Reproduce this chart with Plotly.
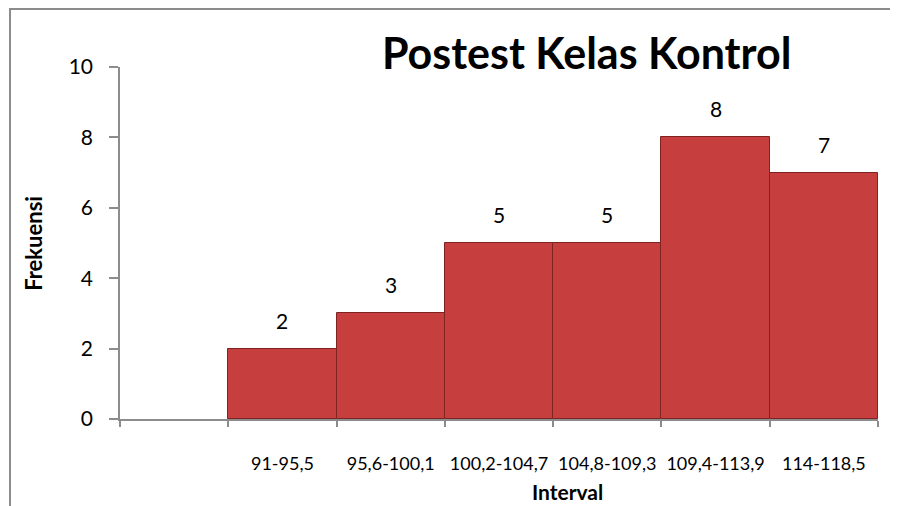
import plotly.graph_objects as go

categories = [" ", "91-95,5", "95,6-100,1", "100,2-104,7", "104,8-109,3", "109,4-113,9", "114-118,5"]
frequencies = [None, 2, 3, 5, 5, 8, 7]
y_ticks = [0, 2, 4, 6, 8, 10]

FONT = "Lato"
fig = go.Figure()
fig.add_trace(go.Bar(
    x=categories, y=frequencies,
    marker=dict(color="#C63E3E", line=dict(color="#7E2222", width=1)),
    width=1.0, showlegend=False, hoverinfo="x+y",
))

annotations = []
for c, v in zip(categories, frequencies):
    if v is None:
        continue
    annotations.append(dict(x=c, y=v, text=str(v), showarrow=False, yanchor="bottom",
                            yshift=14, font=dict(family=FONT, size=21, color="black")))

annotations.append(dict(xref="paper", yref="paper", x=0.615, y=1.04, text="<b>Postest Kelas Kontrol</b>",
                        showarrow=False, xanchor="center", yanchor="middle",
                        font=dict(family=FONT, size=43, color="black")))
annotations.append(dict(xref="paper", yref="paper", x=0.59, y=-0.207, text="<b>Interval</b>",
                        showarrow=False, xanchor="center", yanchor="middle",
                        font=dict(family=FONT, size=21, color="black")))
annotations.append(dict(xref="paper", yref="paper", x=-0.115, y=0.5, text="<b>Frekuensi</b>",
                        showarrow=False, xanchor="center", yanchor="middle", textangle=-90,
                        font=dict(family=FONT, size=22, color="black")))

fig.update_layout(
    width=890, height=498,
    margin=dict(l=112, r=20, t=59, b=87, autoexpand=False),
    paper_bgcolor="white", plot_bgcolor="white",
    bargap=0,
    annotations=annotations,
    shapes=[dict(type="rect", xref="paper", yref="paper", x0=-0.1451, y0=-0.4, x1=1.2, y1=1.1648,
                 line=dict(color="#8C8C8C", width=2), fillcolor="rgba(0,0,0,0)", layer="below")],
    xaxis=dict(type="category", categoryorder="array", categoryarray=categories,
               showline=True, linecolor="#8C8C8C", linewidth=1.5,
               ticks="outside", ticklen=6, tickcolor="#8C8C8C", tickwidth=1.5,
               tickson="boundaries", ticklabelstandoff=28, tickangle=0,
               tickfont=dict(family=FONT, size=18, color="black"),
               showgrid=False, zeroline=False, fixedrange=True, automargin=False),
    yaxis=dict(range=[0, 10], tickvals=y_ticks, showline=True, linecolor="#8C8C8C", linewidth=1.5,
               ticks="outside", ticklen=9, tickcolor="#8C8C8C", tickwidth=1.5,
               ticklabelstandoff=12,
               tickfont=dict(family=FONT, size=21, color="black"),
               showgrid=False, zeroline=False, fixedrange=True, automargin=False),
)

fig.write_html("out.html")
